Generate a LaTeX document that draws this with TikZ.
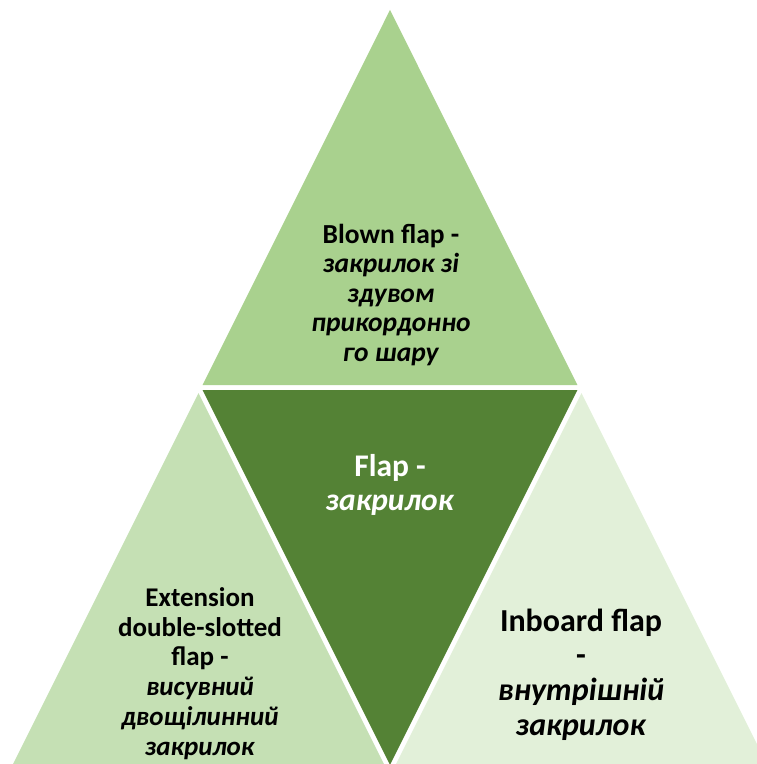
\documentclass[tikz,border=0pt]{standalone}
\usepackage{fontspec}
\setmainfont{Carlito}
\usetikzlibrary{calc}
\definecolor{gTop}{HTML}{A9D18E}
\definecolor{gMid}{HTML}{548235}
\definecolor{gLeft}{HTML}{C5E0B4}
\definecolor{gRight}{HTML}{E2F0D9}
\newcommand{\shrink}{0.9789}
\begin{document}
\begin{tikzpicture}[x=1pt,y=-1pt,
  lbl/.style={align=center,inner sep=0pt,text=black},
  toptxt/.style={lbl,font=\bfseries\fontsize{27.5}{29.5}\selectfont},
  lefttxt/.style={lbl,font=\bfseries\fontsize{27}{29.8}\selectfont},
  midtxt/.style={lbl,font=\bfseries\fontsize{31.5}{34}\selectfont},
  righttxt/.style={lbl,font=\bfseries\fontsize{32}{34.7}\selectfont}]
\useasboundingbox (0,0) rectangle (757,764);
% outer pyramid corners and edge midpoints
\coordinate (A)  at (390,4.4);
\coordinate (L)  at (198.5,387.5);
\coordinate (R)  at (581.5,387.5);
\coordinate (BL) at (7,770.5);
\coordinate (B)  at (390,770.5);
\coordinate (BR) at (773,770.5);
% incentres of the four sub-triangles
\coordinate (It) at (390,269.15);
\coordinate (Ic) at (390,505.85);
\coordinate (Il) at (198.5,652.15);
\coordinate (Ir) at (581.5,652.15);
% each piece shrunk towards its incentre to leave a thin white gap
\fill[gTop]   ($(It)!\shrink!(A)$) -- ($(It)!\shrink!(R)$) -- ($(It)!\shrink!(L)$) -- cycle;
\fill[gMid]   ($(Ic)!\shrink!(L)$) -- ($(Ic)!\shrink!(R)$) -- ($(Ic)!\shrink!(B)$) -- cycle;
\fill[gLeft]  ($(Il)!\shrink!(L)$) -- ($(Il)!\shrink!(B)$) -- ($(Il)!\shrink!(BL)$) -- cycle;
\fill[gRight] ($(Ir)!\shrink!(R)$) -- ($(Ir)!\shrink!(BR)$) -- ($(Ir)!\shrink!(B)$) -- cycle;
% labels
\node[toptxt] (tTop) at (391,295) {Blown flap -\\\textit{закрилок зі}\\\textit{здувом}\\\textit{прикордонно}\\\textit{го шару}};
\node[midtxt,text=white] (tMid) at (390,485) {Flap -\\\textit{закрилок}};
\node[lefttxt] (tLeft) at (200,673.5) {Extension\\double-slotted\\flap -\\\textit{висувний}\\\textit{двощілинний}\\\textit{закрилок}};
\node[righttxt] (tRight) at (581,674.5) {Inboard flap\\-\\\textit{внутрішній}\\\textit{закрилок}};
\end{tikzpicture}
\end{document}
